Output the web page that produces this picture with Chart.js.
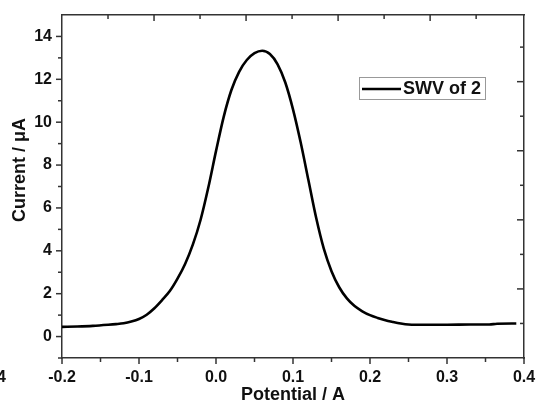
<!DOCTYPE html>
<html><head><meta charset="utf-8">
<script src="https://cdn.jsdelivr.net/npm/chart.js@4/dist/chart.umd.min.js"></script>
<style>html,body{margin:0;padding:0;background:#fff;overflow:hidden}</style>
</head><body>
<canvas id="c" width="539" height="408"></canvas>
<script>
// ---- data ----
const potential = [-0.20,-0.18,-0.16,-0.14,-0.13,-0.12,-0.11,-0.10,-0.09,-0.08,-0.07,-0.06,-0.05,-0.04,-0.03,-0.02,-0.01,
  0.00,0.01,0.02,0.03,0.04,0.05,0.06,0.07,0.08,0.09,0.10,0.11,0.12,0.13,0.14,0.15,0.16,0.17,0.18,0.19,0.20,
  0.21,0.22,0.23,0.24,0.25,0.26,0.28,0.30,0.33,0.355,0.365,0.39];
const current = [0.45,0.47,0.50,0.55,0.58,0.62,0.70,0.82,1.02,1.32,1.70,2.12,2.70,3.40,4.30,5.45,6.95,
  8.65,10.25,11.50,12.35,12.90,13.22,13.33,13.18,12.70,11.85,10.60,9.05,7.30,5.55,4.10,3.05,2.30,1.78,1.42,1.18,1.00,
  0.87,0.76,0.68,0.61,0.56,0.55,0.55,0.55,0.56,0.56,0.60,0.61];
const seriesLabel = 'SWV of 2';
const xTitle = 'Potential / A';
const yTitle = 'Current / \u03BCA';
const xRange = [-0.2, 0.4];
const xStep = 0.05;            // major labels every 0.1
const yRange = [-1, 15];
const yStep = 1;               // labels every 2 from 0
const topAxisRange = [0, 10.04];   // separate top frame ticks
const rightAxisRange = [-1, 8.93]; // separate right frame ticks
const strayLabel = '4';

const FONT = '"Liberation Sans", Arial, sans-serif';
const axisColor = '#333';
const textColor = '#111';

const isMajorX = v => Math.abs(v * 10 - Math.round(v * 10)) < 1e-6;
const isMajorY = v => Math.abs(v / 2 - Math.round(v / 2)) < 1e-6 && v >= 0;
const isInt = v => Math.abs(v - Math.round(v)) < 1e-6;

const framePlugin = {
  id: 'framePlugin',
  afterDraw(chart) {
    const ctx = chart.ctx, a = chart.chartArea;
    const {x, y, x2, y2} = chart.scales;
    ctx.save();
    ctx.strokeStyle = axisColor;
    ctx.lineWidth = 1.5;
    const seg = (x0, y0, x1, y1) => { ctx.beginPath(); ctx.moveTo(x0, y0); ctx.lineTo(x1, y1); ctx.stroke(); };
    x.ticks.forEach(t => { const p = x.getPixelForValue(t.value); seg(p, a.bottom, p, a.bottom + (isMajorX(t.value) ? 6 : 4)); });
    y.ticks.forEach(t => { if (t.value >= yRange[1]) return; const p = y.getPixelForValue(t.value); seg(a.left - (isMajorY(t.value) ? 6 : 4), p, a.left, p); });
    x2.ticks.forEach(t => { if (!isInt(t.value) || t.value < 1 || t.value > 9) return; const p = x2.getPixelForValue(t.value);
      seg(p, a.top, p, a.top + (Math.round(t.value) % 2 === 0 ? 6 : 4)); });
    y2.ticks.forEach(t => { if (!isInt(t.value) || t.value < 0) return; const p = y2.getPixelForValue(t.value);
      seg(a.right, p, a.right - (Math.abs(Math.round(t.value)) % 2 === 1 ? 7 : 4), p); });

    // legend box
    const lx = 359, ly = 77, lw = 126, lh = 22;
    ctx.fillStyle = '#fff';
    ctx.fillRect(lx, ly, lw, lh);
    ctx.strokeStyle = '#999'; ctx.lineWidth = 1;
    ctx.strokeRect(lx + 0.5, ly + 0.5, lw, lh);
    const ds = chart.data.datasets[0];
    ctx.strokeStyle = ds.borderColor; ctx.lineWidth = 2.5;
    seg(362, ly + lh / 2 + 1, 401, ly + lh / 2 + 1);
    ctx.fillStyle = textColor;
    ctx.font = 'bold 18px ' + FONT;
    ctx.textAlign = 'left'; ctx.textBaseline = 'middle';
    ctx.fillText(ds.label, 403, ly + lh / 2 + 1);

    // y-axis title
    ctx.save();
    ctx.translate(20, 170);
    ctx.rotate(-Math.PI / 2);
    ctx.textAlign = 'center'; ctx.textBaseline = 'middle';
    ctx.font = 'bold 18px ' + FONT;
    ctx.fillText(yTitle, 0, 0);
    ctx.restore();

    // clipped label fragment at lower left
    ctx.font = 'bold 16px ' + FONT;
    ctx.textAlign = 'right'; ctx.textBaseline = 'middle';
    ctx.fillText(strayLabel, 6, 378);
    ctx.restore();
  }
};

const noPad = s => { s.paddingTop = 0; s.paddingBottom = 0; s.paddingLeft = 0; s.paddingRight = 0; };

new Chart(document.getElementById('c'), {
  type: 'line',
  data: {
    datasets: [{
      label: seriesLabel,
      data: potential.map((p, i) => ({x: p, y: current[i]})),
      borderColor: '#000',
      borderWidth: 2.6,
      pointRadius: 0,
      fill: false,
      cubicInterpolationMode: 'monotone',
      xAxisID: 'x', yAxisID: 'y'
    }]
  },
  options: {
    responsive: false,
    devicePixelRatio: 1,
    animation: false,
    layout: {padding: 0},
    plugins: {legend: {display: false}, tooltip: {enabled: false}},
    scales: {
      x: {
        type: 'linear', position: 'bottom', min: xRange[0], max: xRange[1],
        afterFit: s => { s.height = 50; noPad(s); },
        ticks: {stepSize: xStep, autoSkip: false, maxRotation: 0, padding: 10, color: textColor,
          font: {family: FONT, size: 16, weight: 'bold'},
          callback: v => isMajorX(v) ? (Math.round(v * 10) / 10).toFixed(1) : ''},
        grid: {display: true, drawOnChartArea: false, drawTicks: false},
        border: {display: true, color: axisColor, width: 1.5},
        title: {display: true, text: xTitle, color: textColor, font: {family: FONT, size: 18, weight: 'bold'}, padding: {top: 0, bottom: 2}}
      },
      y: {
        type: 'linear', position: 'left', min: yRange[0], max: yRange[1],
        afterFit: s => { s.width = 62; noPad(s); },
        ticks: {stepSize: yStep, autoSkip: false, padding: 10, color: textColor,
          font: {family: FONT, size: 16, weight: 'bold'},
          callback: v => isMajorY(v) ? String(Math.round(v)) : ''},
        grid: {display: true, drawOnChartArea: false, drawTicks: false},
        border: {display: true, color: axisColor, width: 1.5}
      },
      x2: {
        type: 'linear', position: 'top', min: topAxisRange[0], max: topAxisRange[1],
        afterFit: s => { s.height = 15; noPad(s); },
        ticks: {display: false, stepSize: 1},
        grid: {display: true, drawOnChartArea: false, drawTicks: false},
        border: {display: true, color: axisColor, width: 1.5}
      },
      y2: {
        type: 'linear', position: 'right', min: rightAxisRange[0], max: rightAxisRange[1],
        afterFit: s => { s.width = 15; noPad(s); },
        ticks: {display: false, stepSize: 1},
        grid: {display: true, drawOnChartArea: false, drawTicks: false},
        border: {display: true, color: axisColor, width: 1.5}
      }
    }
  },
  plugins: [framePlugin]
});
</script>
</body></html>
